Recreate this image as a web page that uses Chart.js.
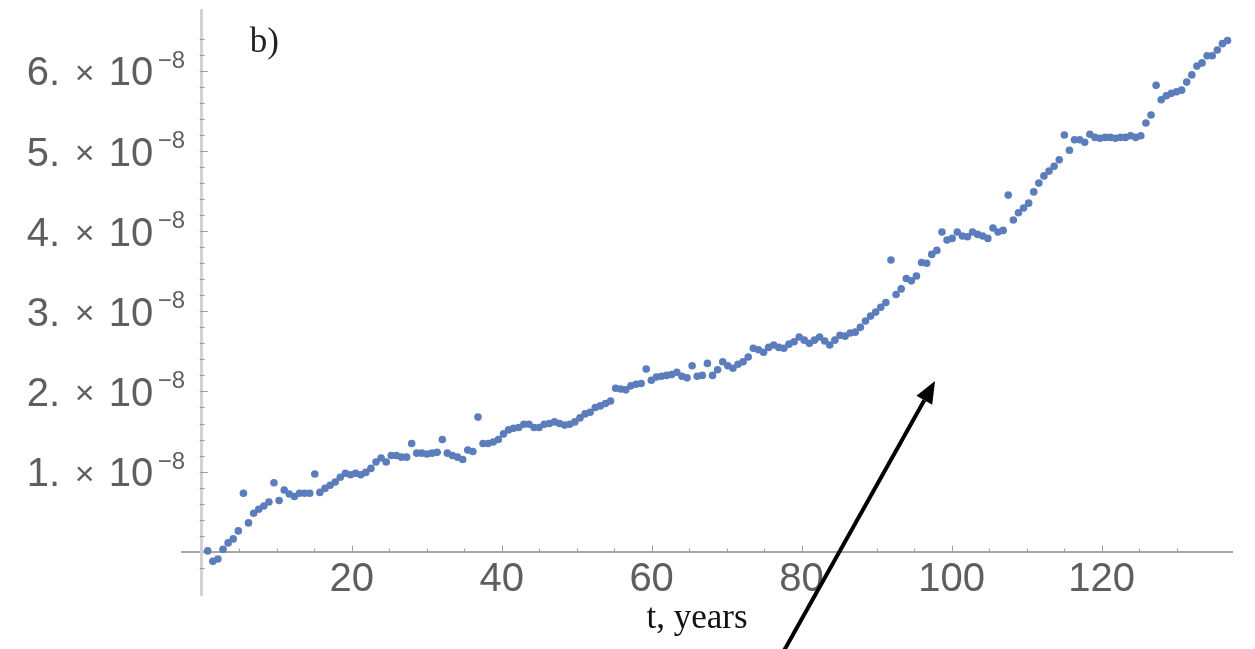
<!DOCTYPE html>
<html>
<head>
<meta charset="utf-8">
<script src="https://cdn.jsdelivr.net/npm/chart.js@4.4.1/dist/chart.umd.min.js"></script>
<style>
  html, body { margin: 0; padding: 0; background: #fff; }
  canvas { display: block; }
</style>
</head>
<body>
<canvas id="myChart" width="1255" height="649"></canvas>
<script>
// sampling grid of the series (years)
const startYear = 0.8;
const yearStep = 0.68;

// series values, in units of 1e-8
const values = [
  0.01, -0.12, -0.09, 0.03, 0.11, 0.16, 0.26, 0.73, 0.36, 0.48,
  0.53, 0.57, 0.62, 0.86, 0.64, 0.77, 0.72, 0.69, 0.73, 0.73,
  0.73, 0.97, 0.74, 0.79, 0.83, 0.87, 0.93, 0.98, 0.96, 0.98,
  0.96, 0.99, 1.04, 1.12, 1.17, 1.12, 1.20, 1.20, 1.18, 1.18,
  1.35, 1.23, 1.23, 1.22, 1.23, 1.24, 1.40, 1.23, 1.20, 1.18,
  1.15, 1.27, 1.25, 1.68, 1.35, 1.35, 1.37, 1.40, 1.47, 1.52,
  1.54, 1.55, 1.59, 1.59, 1.55, 1.55, 1.59, 1.60, 1.62, 1.60,
  1.58, 1.59, 1.62, 1.67, 1.72, 1.74, 1.80, 1.82, 1.85, 1.88,
  2.04, 2.03, 2.02, 2.07, 2.09, 2.10, 2.28, 2.14, 2.18, 2.19,
  2.20, 2.21, 2.24, 2.19, 2.17, 2.32, 2.19, 2.20, 2.35, 2.20,
  2.27, 2.37, 2.32, 2.29, 2.34, 2.37, 2.43, 2.54, 2.52, 2.49,
  2.55, 2.58, 2.55, 2.54, 2.59, 2.62, 2.68, 2.64, 2.60, 2.64,
  2.68, 2.63, 2.58, 2.64, 2.70, 2.69, 2.73, 2.74, 2.80, 2.88,
  2.94, 2.99, 3.05, 3.11, 3.64, 3.21, 3.28, 3.41, 3.38, 3.44,
  3.61, 3.60, 3.71, 3.76, 3.99, 3.89, 3.91, 3.99, 3.94, 3.93,
  3.99, 3.96, 3.94, 3.91, 4.04, 3.99, 4.01, 4.45, 4.14, 4.23,
  4.29, 4.35, 4.49, 4.60, 4.69, 4.75, 4.81, 4.89, 5.20, 5.01,
  5.14, 5.14, 5.11, 5.21, 5.17, 5.16, 5.17, 5.17, 5.16, 5.17,
  5.17, 5.19, 5.17, 5.19, 5.35, 5.45, 5.82, 5.64, 5.69, 5.72,
  5.74, 5.76, 5.86, 5.95, 6.06, 6.10, 6.19, 6.19, 6.26, 6.34,
  6.38
];

const xTickLabels = [20, 40, 60, 80, 100, 120];
const yTickLabels = [1, 2, 3, 4, 5, 6];
const panelLabel = 'b)';
const xAxisTitle = 't, years';

const points = values.map((v, i) => ({ x: startYear + i * yearStep, y: v * 1e-8 }));

const labelColor = '#5e5e5e';

const decorations = {
    id: 'decorations',
    beforeDatasetsDraw(chart) {
        const ctx = chart.ctx;
        const x = chart.scales.x, y = chart.scales.y;
        const x0 = x.getPixelForValue(0);
        const y0 = y.getPixelForValue(0);
        ctx.save();
        ctx.strokeStyle = '#9c9c9c';
        ctx.lineWidth = 1;
        // small tick marks pointing into the plot
        x.ticks.forEach(t => {
            const k = Math.round(t.value / 5);
            if (Math.abs(t.value - k * 5) > 1e-6 || k <= 0) return;
            const px = Math.round(x.getPixelForValue(t.value)) + 0.5;
            const len = k % 4 === 0 ? 6 : 3;
            ctx.beginPath();
            ctx.moveTo(px, y0);
            ctx.lineTo(px, y0 - len);
            ctx.stroke();
        });
        y.ticks.forEach(t => {
            const k = Math.round(t.value / 0.2e-8);
            if (Math.abs(t.value - k * 0.2e-8) > 1e-12 || k === 0) return;
            const py = Math.round(y.getPixelForValue(t.value)) + 0.5;
            const len = k % 5 === 0 ? 6 : 3;
            ctx.beginPath();
            ctx.moveTo(x0 - 2, py);
            ctx.lineTo(x0 + len, py);
            ctx.stroke();
        });
        ctx.restore();
    },
    afterDraw(chart) {
        const ctx = chart.ctx;
        const x = chart.scales.x, y = chart.scales.y;
        const x0 = x.getPixelForValue(0);
        ctx.save();

        // y tick labels like "6. × 10^-8"
        ctx.fillStyle = labelColor;
        ctx.textBaseline = 'alphabetic';
        yTickLabels.forEach(k => {
            const py = y.getPixelForValue(k * 1e-8);
            ctx.textAlign = 'left';
            ctx.font = '40px "Liberation Sans", Arial, sans-serif';
            ctx.fillText(k + '.', x0 - 175, py + 14.5);
            ctx.fillText('10', x0 - 93, py + 14.5);
            ctx.textAlign = 'center';
            ctx.font = '34px "Liberation Sans", Arial, sans-serif';
            ctx.fillText('\u00d7', x0 - 117, py + 13);
            ctx.textAlign = 'left';
            ctx.font = '24px "Liberation Sans", Arial, sans-serif';
            ctx.fillText('\u22128', x0 - 44, py - 3);
        });

        // panel label and axis title
        ctx.font = '35px "Liberation Serif", "Times New Roman", serif';
        ctx.fillStyle = '#222';
        ctx.textAlign = 'left';
        ctx.fillText(panelLabel, x0 + 48, 52);
        ctx.fillStyle = '#111';
        ctx.textAlign = 'center';
        ctx.fillText(xAxisTitle, 697, 628);

        // annotation arrow
        const tx = x.getPixelForValue(97.8), ty = y.getPixelForValue(2.13e-8);
        const sx = x.getPixelForValue(77.5), sy = y.getPixelForValue(-1.26e-8);
        const ang = Math.atan2(ty - sy, tx - sx);
        const headLen = 22, headHalf = 9;
        const bx = tx - headLen * Math.cos(ang), by = ty - headLen * Math.sin(ang);
        ctx.strokeStyle = '#000';
        ctx.fillStyle = '#000';
        ctx.lineWidth = 4;
        ctx.beginPath();
        ctx.moveTo(sx, sy);
        ctx.lineTo(bx, by);
        ctx.stroke();
        ctx.beginPath();
        ctx.moveTo(tx, ty);
        ctx.lineTo(bx + headHalf * Math.sin(ang), by - headHalf * Math.cos(ang));
        ctx.lineTo(bx - headHalf * Math.sin(ang), by + headHalf * Math.cos(ang));
        ctx.closePath();
        ctx.fill();
        ctx.restore();
    }
};

const ctx = document.getElementById('myChart').getContext('2d');
const chart = new Chart(ctx, {
    type: 'scatter',
    data: {
        datasets: [{
            data: points,
            pointRadius: 3.8,
            pointBorderWidth: 0,
            pointBackgroundColor: '#5b7dbb',
            pointHoverRadius: 3.8
        }]
    },
    options: {
        responsive: false,
        animation: false,
        devicePixelRatio: 1,
        layout: { padding: { left: 182, right: 23, top: 10, bottom: 54 } },
        plugins: {
            legend: { display: false },
            tooltip: { enabled: false }
        },
        scales: {
            x: {
                type: 'linear',
                position: { y: 0 },
                min: -2.63,
                max: 137.4,
                grid: { display: false, drawTicks: false },
                border: { display: true, color: '#a6a6a6', width: 2 },
                ticks: {
                    stepSize: 5,
                    autoSkip: false,
                    maxRotation: 0,
                    padding: 4,
                    color: labelColor,
                    font: { family: '"Liberation Sans", Arial, sans-serif', size: 40 },
                    callback: value => {
                        const k = Math.round(value);
                        return Math.abs(value - k) < 1e-6 && xTickLabels.includes(k) ? String(k) : '';
                    }
                }
            },
            y: {
                type: 'linear',
                position: { x: 0 },
                min: -0.54e-8,
                max: 6.76e-8,
                grid: { display: false, drawTicks: false },
                border: { display: true, color: '#d2d2d2', width: 3 },
                ticks: {
                    stepSize: 0.2e-8,
                    autoSkip: false,
                    display: false
                }
            }
        }
    },
    plugins: [decorations]
});
</script>
</body>
</html>
